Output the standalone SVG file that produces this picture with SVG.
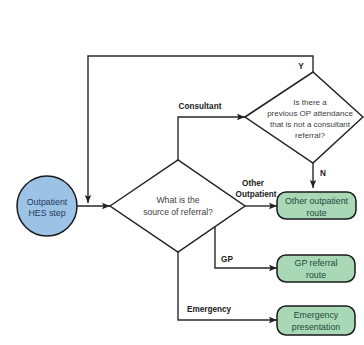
<svg xmlns="http://www.w3.org/2000/svg" width="364" height="345" viewBox="0 0 364 345">
<defs>
<marker id="arr" markerUnits="userSpaceOnUse" markerWidth="8" markerHeight="8" viewBox="0 0 8 8" refX="8" refY="4" orient="auto">
<path d="M0,0.8 L8,4 L0,7.2 L1.5,4 Z" fill="#222"/>
</marker>
</defs>
<style>
.ln{fill:none;stroke:#2a2a2a;stroke-width:1.4}
.dia{fill:#fff;stroke:#222;stroke-width:1.5}
.box{fill:#a8d8b6;stroke:#1a1a1a;stroke-width:1.5}
.circ{fill:#9cc3e5;stroke:#1a1a1a;stroke-width:1.5}
.t{font-family:"Liberation Sans",Arial,sans-serif;font-size:8.6px;text-anchor:middle;fill:#404040}
.t2{font-family:"Liberation Sans",Arial,sans-serif;font-size:8px;text-anchor:middle;fill:#404040}
.bt{font-family:"Liberation Sans",Arial,sans-serif;font-size:8.2px;font-weight:bold;text-anchor:middle;fill:#1a1a1a}
.gt{font-family:"Liberation Sans",Arial,sans-serif;font-size:8.8px;text-anchor:middle;fill:#1e4a3a}
.ct{font-family:"Liberation Sans",Arial,sans-serif;font-size:8.8px;text-anchor:middle;fill:#1f3a5f}
</style>
<rect width="364" height="345" fill="#fff"/>
<g id="connectors">
<path class="ln" d="M77,206 H110" marker-end="url(#arr)"/>
<path class="ln" d="M313,72 V56 H88 V203" marker-end="url(#arr)"/>
<path class="ln" d="M178,160 V117 H245" marker-end="url(#arr)"/>
<path class="ln" d="M313,163 V188" marker-end="url(#arr)"/>
<path class="ln" d="M245,206 H277" marker-end="url(#arr)"/>
<path class="ln" d="M215,227 V268 H277" marker-end="url(#arr)"/>
<path class="ln" d="M178,252 V320 H277" marker-end="url(#arr)"/>
<text class="bt" x="301" y="69">Y</text>
<text class="bt" x="200" y="109">Consultant</text>
<text class="bt" x="323" y="176">N</text>
<text class="bt" x="253" y="186">Other</text>
<text class="bt" x="256" y="197">Outpatient</text>
<text class="bt" x="227" y="262">GP</text>
<text class="bt" x="209" y="312">Emergency</text>
</g>
<g id="start">
<circle class="circ" cx="47" cy="206" r="30"/>
<text class="ct" x="47" y="205">Outpatient</text>
<text class="ct" x="47" y="216">HES step</text>
</g>
<g id="source">
<polygon class="dia" points="110,206 178,160 245,206 178,252"/>
<text class="t" x="178" y="203">What is the</text>
<text class="t" x="178" y="215">source of referral?</text>
</g>
<g id="previous">
<polygon class="dia" points="245,117 313,72 363,117 313,163"/>
<text class="t2" x="310" y="105">Is there a</text>
<text class="t2" x="310" y="116">previous OP attendance</text>
<text class="t2" x="310" y="127">that is not a  consultant</text>
<text class="t2" x="310" y="138">referral?</text>
</g>
<g id="other">
<rect class="box" x="277" y="192" width="79" height="27" rx="9"/>
<text class="gt" x="316.5" y="204">Other outpatient</text>
<text class="gt" x="316.5" y="216">route</text>
</g>
<g id="gp">
<rect class="box" x="277" y="255" width="78" height="27" rx="9"/>
<text class="gt" x="316" y="266">GP referral</text>
<text class="gt" x="316" y="278">route</text>
</g>
<g id="emergency">
<rect class="box" x="277" y="306" width="78" height="29" rx="9"/>
<text class="gt" x="316" y="318">Emergency</text>
<text class="gt" x="316" y="330">presentation</text>
</g>
</svg>
